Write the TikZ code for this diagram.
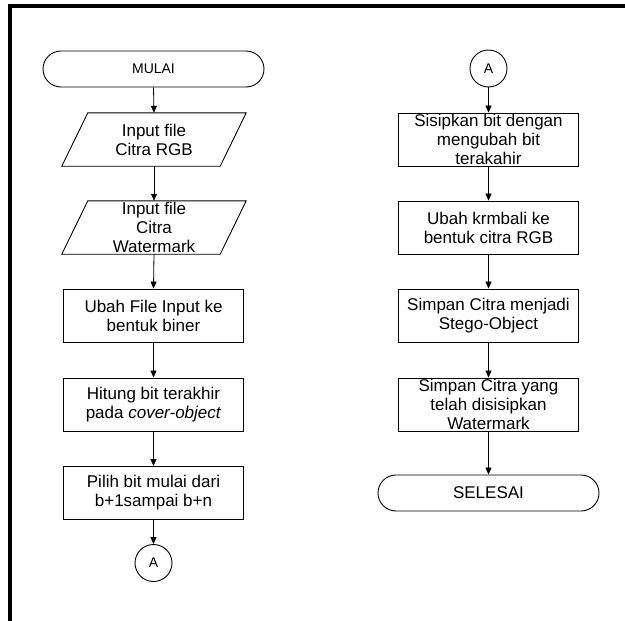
\documentclass[tikz,border=0pt]{standalone}
\usepackage{fontspec}
\setmainfont{Liberation Sans}
\usetikzlibrary{arrows.meta}
\begin{document}
\begin{tikzpicture}[x=1pt,y=-1pt,
 base/.style={inner sep=0pt, align=center, font=\fontsize{17}{19}\selectfont},
 proc/.style={base, draw, line width=0.9pt, minimum width=180pt, minimum height=53pt},
 term/.style={base, draw, line width=0.9pt, rounded corners=18pt, minimum width=221pt, minimum height=36pt},
 io/.style={base, minimum width=184pt, minimum height=53pt},
 iobox/.style={draw, line width=0.9pt},
 conn/.style={base, draw, line width=0.9pt, circle, minimum size=37pt, font=\fontsize{14}{16}\selectfont},
 arr/.style={draw, line width=0.8pt, -{Triangle[width=6pt,length=7pt]}},
 frame/.style={line width=4pt},
]
\useasboundingbox (0,0) rectangle (625,621);
\draw[frame] (625,6) -- (10,6) -- (10,621);

% left column
\node[term, font=\fontsize{14}{16}\selectfont] (m) at (153.5,69) {MULAI};
\node[io] (p1) at (154,139.5) {Input file\\Citra RGB};
\node[io] (p2) at (154,227.5) {Input file\\Citra\\Watermark};
\draw[iobox] ([xshift=26pt]p1.north west) -- (p1.north east) -- ([xshift=-26pt]p1.south east) -- (p1.south west) -- cycle;
\draw[iobox] ([xshift=26pt]p2.north west) -- (p2.north east) -- ([xshift=-26pt]p2.south east) -- (p2.south west) -- cycle;
\node[proc] (b1) at (153.5,315.5) {Ubah File Input ke\\bentuk biner};
\node[proc] (b2) at (153.5,404.5) {Hitung bit terakhir\\pada \textit{cover-object}};
\node[proc] (b3) at (153.5,493) {Pilih bit mulai dari\\b+1sampai b+n};
\node[conn] (a1) at (153.5,563) {A};

% right column
\node[conn] (a2) at (488.5,68.5) {A};
\node[proc] (r1) at (488.5,139.5) {Sisipkan bit dengan\\mengubah bit\\terakahir};
\node[proc] (r2) at (488.5,227.5) {Ubah krmbali ke\\bentuk citra RGB};
\node[proc] (r3) at (488.5,315.5) {Simpan Citra menjadi\\Stego-Object};
\node[proc] (r4) at (488.5,404.5) {Simpan Citra yang\\telah disisipkan\\Watermark};
\node[term] (s) at (488.5,493) {SELESAI};

% connectors
\draw[arr] (m.south) -- (p1.north);
\draw[arr] (p1.south) -- (p2.north);
\draw[arr] (p2.south) -- (b1.north);
\draw[arr] (b1.south) -- (b2.north);
\draw[arr] (b2.south) -- (b3.north);
\draw[arr] (b3.south) -- (a1.north);
\draw[arr] (a2.south) -- (r1.north);
\draw[arr] (r1.south) -- (r2.north);
\draw[arr] (r2.south) -- (r3.north);
\draw[arr] (r3.south) -- (r4.north);
\draw[arr] (r4.south) -- (s.north);
\end{tikzpicture}
\end{document}
